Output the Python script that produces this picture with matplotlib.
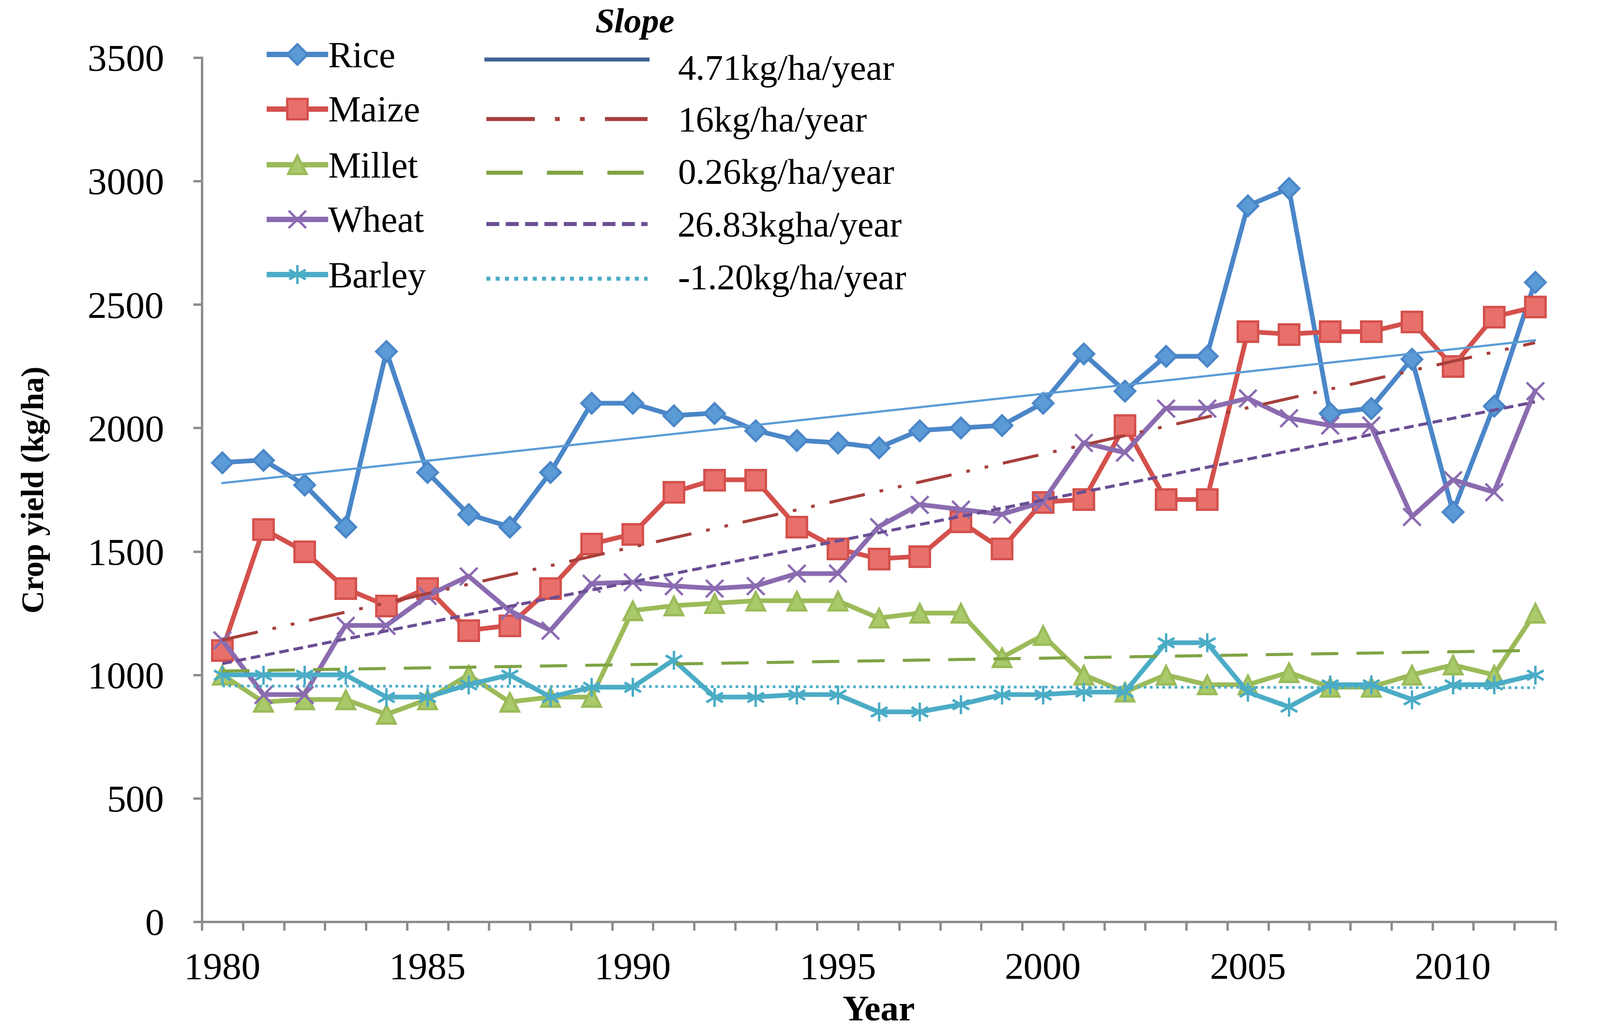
import matplotlib
matplotlib.use('Agg')
import matplotlib.pyplot as plt
from matplotlib.lines import Line2D
import numpy as np

plt.rcParams['font.family'] = ['Liberation Serif', 'DejaVu Serif']

# ---- data ----
years = list(range(1980, 2013))
rice = [1860, 1870, 1770, 1600, 2310, 1820, 1650, 1600, 1820, 2100, 2100,
        2050, 2060, 1990, 1950, 1940, 1920, 1990, 2000, 2010, 2100, 2300,
        2150, 2290, 2290, 2900, 2970, 2060, 2080, 2280, 1660, 2090, 2590]
maize = [1100, 1590, 1500, 1350, 1280, 1350, 1180, 1200, 1350, 1530, 1570,
         1740, 1790, 1790, 1600, 1510, 1470, 1480, 1620, 1510, 1700, 1710,
         2010, 1710, 1710, 2390, 2380, 2390, 2390, 2430, 2250, 2450, 2490]
millet = [1000, 890, 900, 900, 840, 900, 1000, 890, 910, 910, 1260,
          1280, 1290, 1300, 1300, 1300, 1230, 1250, 1250, 1070, 1160, 1000,
          930, 1000, 960, 960, 1010, 950, 950, 1000, 1040, 1000, 1250]
wheat = [1140, 920, 920, 1200, 1200, 1320, 1400, 1260, 1180, 1370, 1375,
         1360, 1350, 1360, 1410, 1410, 1600, 1690, 1670, 1650, 1700, 1940,
         1900, 2080, 2080, 2120, 2040, 2010, 2010, 1640, 1790, 1740, 2150]
barley = [1000, 1000, 1000, 1000, 910, 910, 960, 1000, 910, 950, 950,
          1060, 910, 910, 920, 920, 850, 850, 880, 920, 920, 930,
          930, 1130, 1130, 930, 870, 960, 960, 900, 960, 960, 1000]

names = ['Rice', 'Maize', 'Millet', 'Wheat', 'Barley']
slope_labels = ['4.71kg/ha/year', '16kg/ha/year', '0.26kg/ha/year',
                '26.83kgha/year', '-1.20kg/ha/year']

# ---- styles ----
line_colors = ['#4A86C8', '#D4504C', '#9BBB59', '#8B6BB0', '#4BACC6']
face_colors = ['#5B9BD5', '#E8706B', '#A9C96A', '#9B7FC0', '#5BC0DA']
markers = ['D', 's', '^', 'x', (6, 2, 0)]
msizes = [21, 30, 27, 26, 28]
trend_colors = ['#5B9BD5', '#A6403C', '#7FA343', '#6A4E94', '#4BACC6']
legend_trend_colors = ['#3F6594', '#A6403C', '#7FA343', '#6A4E94', '#4BACC6']
trend_styles = ['-', (0, (12, 5, 1.2, 5, 1.2, 5)), (0, (9, 6)), (0, (3.2, 1.6)), (0, (1, 1.3))]
trend_lw = [3.2, 4.5, 4.5, 4.5, 4.0]

W, H = 3306, 2135
fig = plt.figure(figsize=(W / 100, H / 100), dpi=100, facecolor='white')
ax = fig.add_axes([417 / W, 1 - 1905 / H, (3214 - 417) / W, (1905 - 119) / H])

series = [rice, maize, millet, wheat, barley]
x = np.array(years)
for i, vals in enumerate(series):
    ax.plot(x, vals, color=line_colors[i], lw=7, marker=markers[i],
            markersize=msizes[i], markerfacecolor=face_colors[i],
            markeredgecolor=line_colors[i], markeredgewidth=3.5, zorder=3)
    # linear trend line (Excel-style)
    k, b = np.polyfit(x, vals, 1)
    ax.plot(x, k * x + b, color=trend_colors[i], lw=trend_lw[i],
            linestyle=trend_styles[i], zorder=4)

# ---- axes ----
ax.set_xlim(1979.5, 2012.5)
ax.set_ylim(0, 3500)
ax.set_yticks(np.arange(0, 3501, 500))
ax.set_xticks(np.arange(1980, 2011, 5))
ax.set_xticks(np.arange(1979.5, 2013, 1), minor=True)
for s in ['top', 'right']:
    ax.spines[s].set_visible(False)
for s in ['left', 'bottom']:
    ax.spines[s].set_color('#8C8C8C')
    ax.spines[s].set_linewidth(3.5)
ax.tick_params(axis='y', direction='out', length=13, width=3.5, color='#8C8C8C',
               labelsize=57, pad=43)
ax.tick_params(axis='x', which='major', length=0, labelsize=57, pad=46)
ax.tick_params(axis='x', which='minor', direction='out', length=13, width=3.5,
               color='#8C8C8C')

ax.set_ylabel('Crop yield (kg/ha)', fontsize=47, fontweight='bold')
ax.yaxis.set_label_coords(-0.112, 0.5)
ax.set_xlabel('Year', fontsize=54, fontweight='bold')
ax.xaxis.set_label_coords(0.5, -0.085)

# ---- legend (drawn by hand to copy the two-column layout) ----
def fx(px):
    return px / W

def fy(py):
    return 1 - py / H

leg_rows = [112, 225, 340, 453, 567]
trend_rows = [123, 246, 357, 463, 576]
text_rows = [147, 254, 362, 471, 580]
for i in range(5):
    y = leg_rows[i]
    fig.add_artist(Line2D([fx(556), fx(672)], [fy(y), fy(y)], color=line_colors[i],
                          lw=8, transform=fig.transFigure))
    fig.add_artist(Line2D([fx(614)], [fy(y)], marker=markers[i], markersize=msizes[i],
                          markerfacecolor=face_colors[i], markeredgecolor=line_colors[i],
                          markeredgewidth=3.5, transform=fig.transFigure))
    fig.text(fx(678), fy(y + 8), names[i], fontsize=55, ha='left', va='center')

    ty = trend_rows[i]
    fig.add_artist(Line2D([fx(1005), fx(1338)], [fy(ty), fy(ty)],
                          color=legend_trend_colors[i], lw=6,
                          linestyle=trend_styles[i], transform=fig.transFigure))
    fig.text(fx(1400), fy(text_rows[i]), slope_labels[i], fontsize=54,
             ha='left', va='center')

fig.text(fx(1312), fy(49), 'Slope', fontsize=52, fontweight='bold',
         fontstyle='italic', ha='center', va='center')

plt.savefig('out.png', dpi=100, facecolor='white')
plt.close()
